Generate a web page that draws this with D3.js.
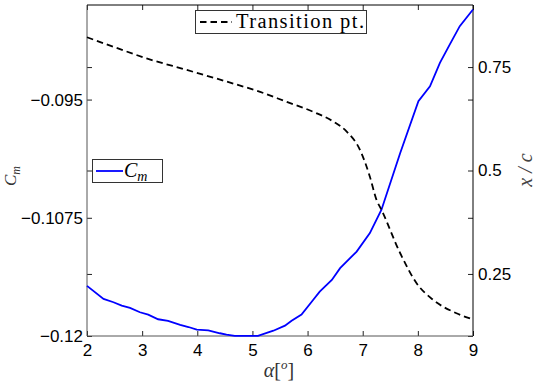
<!DOCTYPE html>
<html>
<head>
<meta charset="utf-8">
<script src="https://cdn.jsdelivr.net/npm/d3@7"></script>
<style>
  body { margin: 0; background: #fff; }
  svg { display: block; }
  .tick text { font-family: "Liberation Sans", Arial, sans-serif; font-size: 17px; fill: #000; }
</style>
</head>
<body>
<svg id="chart" width="540" height="383"></svg>
<script>
// angle of attack for the Cm curve
const cmAlpha = [2, 2.3, 2.48, 2.63, 2.78, 2.96, 3.11, 3.29, 3.47, 3.69, 3.84, 3.99, 4.2, 4.41, 4.53, 4.68, 5.1,
  5.38, 5.59, 5.71, 5.89, 6.1, 6.22, 6.44, 6.59, 6.89, 7.13, 7.34, 7.68, 8.01, 8.22, 8.4, 8.58, 8.76, 9];
const cmValues = [-0.1147, -0.11608, -0.11643, -0.11679, -0.11703, -0.11749, -0.11774, -0.11823, -0.11841,
  -0.11883, -0.11905, -0.11933, -0.1194, -0.11971, -0.11985, -0.11998, -0.11998, -0.11944, -0.11891,
  -0.11838, -0.11774, -0.11619, -0.11531, -0.11407, -0.11283, -0.11107, -0.10912, -0.10665, -0.10065,
  -0.09518, -0.09359, -0.09111, -0.08917, -0.08724, -0.08547];

// transition point (x/c) vs alpha
const trAlpha = [2, 2.48, 3.08, 3.81, 4.53, 5.14, 5.62, 6.1, 6.47, 6.71, 6.95, 7.13, 7.25, 7.34, 7.68, 7.98, 8.28, 8.7, 9];
const trValues = [0.822, 0.799, 0.771, 0.743, 0.715, 0.69, 0.666, 0.642, 0.618, 0.594, 0.55, 0.485, 0.429, 0.405,
  0.3, 0.227, 0.187, 0.155, 0.14];

const xTicks = [2, 3, 4, 5, 6, 7, 8, 9];
const cmTicks = [-0.12, -0.1075, -0.095];
const xcTicks = [0.25, 0.5, 0.75];

const margin = { top: 5, right: 67, bottom: 47, left: 87 };
const width = 540 - margin.left - margin.right;
const height = 383 - margin.top - margin.bottom;

const svg = d3.select('#chart');
const g = svg.append('g').attr('transform', `translate(${margin.left},${margin.top})`);

const x = d3.scaleLinear().domain([2, 9]).range([0, width]);
const yCm = d3.scaleLinear().domain([-0.12, -0.085]).range([height, 0]);
const yXc = d3.scaleLinear().domain([0.1, 0.9]).range([height, 0]);

const fmtCm = (d) => (d < 0 ? '\u2212' : '') + Math.abs(d).toString();

// mirrored tick marks (no labels)
g.append('g')
  .call(d3.axisBottom(x).tickValues(xTicks).tickSize(5).tickFormat(''))
  .call((a) => a.select('.domain').remove());
g.append('g').attr('transform', `translate(${width},0)`)
  .call(d3.axisLeft(yCm).tickValues(cmTicks).tickSize(5).tickFormat(''))
  .call((a) => a.select('.domain').remove());
g.append('g')
  .call(d3.axisRight(yXc).tickValues(xcTicks).tickSize(5).tickFormat(''))
  .call((a) => a.select('.domain').remove());

// labelled axes
const xAxis = g.append('g').attr('transform', `translate(0,${height})`)
  .call(d3.axisTop(x).tickValues(xTicks).tickSize(5).tickPadding(-25).tickFormat(d3.format('d')));
xAxis.selectAll('.tick text').attr('dy', '0');
xAxis.select('.domain').remove();

const yLeft = g.append('g')
  .call(d3.axisRight(yCm).tickValues(cmTicks).tickSize(5).tickPadding(-9).tickFormat(fmtCm));
yLeft.selectAll('.tick text').attr('text-anchor', 'end');
yLeft.select('.domain').remove();

const yRight = g.append('g').attr('transform', `translate(${width},0)`)
  .call(d3.axisLeft(yXc).tickValues(xcTicks).tickSize(5).tickPadding(-10).tickFormat((d) => d.toString()));
yRight.selectAll('.tick text').attr('text-anchor', 'start');
yRight.select('.domain').remove();

g.selectAll('.tick line').attr('stroke', '#222');

// frame
g.append('line').attr('x1', 0).attr('x2', width).attr('y1', 0).attr('y2', 0).attr('stroke', '#000');
g.append('line').attr('x1', width).attr('x2', width).attr('y1', 0).attr('y2', height).attr('stroke', '#000');
g.append('line').attr('x1', 0).attr('x2', 0).attr('y1', 0).attr('y2', height).attr('stroke', '#555');
g.append('line').attr('x1', 0).attr('x2', width).attr('y1', height).attr('y2', height).attr('stroke', '#555');

// lines
const cmLine = d3.line().x((d, i) => x(cmAlpha[i])).y((d) => yCm(d));
g.append('path').datum(cmValues).attr('d', cmLine)
  .attr('fill', 'none').attr('stroke', '#0000ff').attr('stroke-width', 1.8);

const trLine = d3.line().curve(d3.curveMonotoneX).x((d, i) => x(trAlpha[i])).y((d) => yXc(d));
g.append('path').datum(trValues).attr('d', trLine)
  .attr('fill', 'none').attr('stroke', '#000').attr('stroke-width', 1.8).attr('stroke-dasharray', '6.5,4');

// legends
const serif = '"Liberation Serif", "DejaVu Serif", serif';
const leg1 = svg.append('g');
leg1.append('rect').attr('x', 195.5).attr('y', 10.5).attr('width', 171).attr('height', 23)
  .attr('fill', '#fff').attr('stroke', '#333');
leg1.append('line').attr('x1', 200).attr('x2', 232).attr('y1', 22).attr('y2', 22)
  .attr('stroke', '#000').attr('stroke-width', 1.8).attr('stroke-dasharray', '6.5,4');
leg1.append('text').attr('x', 236).attr('y', 28).attr('font-family', serif).attr('font-size', 20.5)
  .attr('textLength', 128).attr('lengthAdjust', 'spacing')
  .text('Transition pt.');

const leg2 = svg.append('g');
leg2.append('rect').attr('x', 92.5).attr('y', 159.5).attr('width', 70).attr('height', 23)
  .attr('fill', '#fff').attr('stroke', '#333');
leg2.append('line').attr('x1', 96).attr('x2', 123).attr('y1', 171).attr('y2', 171)
  .attr('stroke', '#0000ff').attr('stroke-width', 1.8);
const cmT = leg2.append('text').attr('x', 124).attr('y', 177).attr('font-family', serif)
  .attr('font-size', 20).attr('font-style', 'italic');
cmT.append('tspan').text('C');
cmT.append('tspan').attr('font-size', 14).attr('dy', 4).text('m');

// axis titles
const yl = svg.append('text').attr('transform', 'translate(16,176) rotate(-90)')
  .attr('text-anchor', 'middle').attr('font-family', serif).attr('font-style', 'italic')
  .attr('font-size', 17).attr('fill', '#333');
yl.append('tspan').text('C');
yl.append('tspan').attr('font-size', 12).attr('dy', 4).text('m');

svg.append('text').attr('transform', 'translate(532,170) rotate(-90)')
  .attr('text-anchor', 'middle').attr('font-family', serif).attr('font-style', 'italic')
  .attr('font-size', 20).attr('fill', '#444').text('x / c');

const xl = svg.append('text').attr('x', 279).attr('y', 377).attr('text-anchor', 'middle')
  .attr('font-family', serif).attr('font-size', 20).attr('fill', '#333');
xl.append('tspan').attr('font-style', 'italic').text('α');
xl.append('tspan').text('[');
xl.append('tspan').attr('font-style', 'italic').attr('font-size', 13).attr('dy', -8).text('o');
xl.append('tspan').attr('dy', 8).text(']');
</script>
</body>
</html>
